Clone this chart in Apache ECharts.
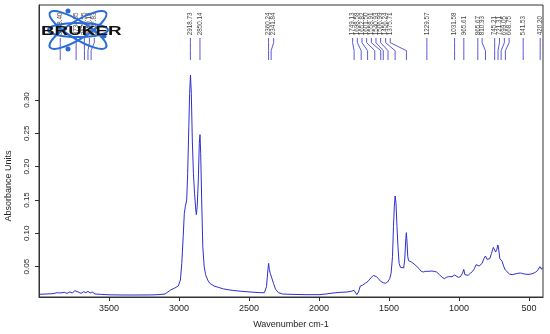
<!DOCTYPE html>
<html><head><meta charset="utf-8">
<script src="https://cdn.jsdelivr.net/npm/echarts@6/dist/echarts.min.js"></script>
<style>html,body{margin:0;padding:0;background:#fff}#c{width:550px;height:334px}</style>
</head><body><div id="c"></div>
<script>
// ---- data ----
const wavenumbers = [4000,3950,3900,3870,3850,3820,3800,3780,3760,3745,3735,3720,3700,3680,3665,3650,3635,3620,3600,3560,3500,3400,3300,3200,3150,3100,3080,3060,3030,3005,2990,2980,2970,2962,2955,2950,2945,2938,2930,2924,2918,2912,2905,2897,2889,2880,2876,2870,2862,2855,2850,2845,2838,2830,2820,2810,2795,2780,2750,2720,2680,2620,2550,2480,2420,2390,2375,2365,2360,2355,2348,2342,2335,2325,2310,2290,2260,2200,2100,2000,1950,1900,1850,1800,1770,1750,1740,1730,1725,1718,1705,1690,1670,1650,1630,1612,1600,1590,1575,1560,1540,1525,1510,1495,1485,1475,1468,1462,1456,1450,1443,1436,1428,1418,1405,1395,1388,1380,1376,1372,1366,1360,1350,1340,1330,1315,1300,1285,1270,1255,1240,1229,1215,1200,1180,1160,1140,1120,1105,1090,1075,1062,1050,1040,1031,1020,1005,990,975,966,958,948,935,920,905,890,878,866,856,848,835,822,811,800,790,780,768,755,746,738,730,722,716,708,700,692,680,669,655,640,620,600,580,562,545,530,515,500,485,470,455,440,430,422,416,410,405,400];
const absorbance = [0.0085,0.009,0.0095,0.011,0.0105,0.0115,0.010,0.012,0.0105,0.014,0.0125,0.012,0.010,0.0125,0.011,0.013,0.0105,0.012,0.009,0.0085,0.0078,0.0075,0.0075,0.0076,0.008,0.009,0.012,0.015,0.018,0.021,0.03,0.055,0.095,0.13,0.14,0.142,0.15,0.19,0.26,0.31,0.3375,0.31,0.24,0.19,0.16,0.135,0.128,0.14,0.18,0.235,0.248,0.22,0.15,0.08,0.05,0.038,0.03,0.025,0.021,0.019,0.0165,0.0145,0.013,0.0118,0.011,0.011,0.02,0.045,0.055,0.046,0.04,0.043,0.038,0.025,0.016,0.011,0.009,0.0085,0.008,0.008,0.009,0.0105,0.0115,0.012,0.013,0.0145,0.013,0.008,0.006,0.012,0.021,0.022,0.025,0.028,0.033,0.037,0.037,0.035,0.032,0.028,0.026,0.025,0.027,0.032,0.04,0.065,0.11,0.14,0.156,0.145,0.11,0.08,0.055,0.049,0.046,0.048,0.06,0.092,0.101,0.09,0.065,0.059,0.057,0.057,0.055,0.053,0.05,0.047,0.043,0.042,0.043,0.044,0.043,0.0435,0.043,0.042,0.038,0.034,0.032,0.034,0.035,0.036,0.035,0.036,0.0375,0.036,0.034,0.035,0.04,0.046,0.038,0.035,0.037,0.04,0.0425,0.047,0.053,0.055,0.051,0.049,0.055,0.062,0.066,0.061,0.058,0.062,0.07,0.079,0.08,0.072,0.076,0.0825,0.075,0.062,0.0625,0.058,0.05,0.045,0.042,0.039,0.038,0.039,0.04,0.0405,0.0395,0.039,0.0385,0.0385,0.039,0.04,0.0415,0.044,0.047,0.05,0.047,0.046,0.049,0.045];
const xTicks = [500,1000,1500,2000,2500,3000,3500];
const yTicks = [0.05,0.10,0.15,0.20,0.25,0.30];
const peakLabels = ['3848.40','3734.85','3675.55','3650.18','3627.83','2918.73','2850.14','2360.24','2341.84','1749.13','1698.58','1652.82','1601.50','1558.91','1540.93','1506.99','1456.24','1375.71','1229.57','1031.58','965.61','865.67','810.93','745.21','721.31','699.05','668.75','541.53','420.20'];
const peakWavenumbers = [3848.40,3734.85,3675.55,3650.18,3627.83,2918.73,2850.14,2360.24,2341.84,1749.13,1698.58,1652.82,1601.50,1558.91,1540.93,1506.99,1456.24,1375.71,1229.57,1031.58,965.61,865.67,810.93,745.21,721.31,699.05,668.75,541.53,420.20];
// wavenumber at which each label is printed (labels are spread where peaks crowd)
const peakLabelWavenumbers = [3848,3734,3676,3640,3605,2918.73,2850.14,2360.24,2324,1760,1726,1693,1660,1626,1593,1560,1524,1491,1229.57,1031.58,965.61,865.67,835,745.21,711,676,642,541.53,420.20];

const FONT = 'Liberation Sans, Arial, sans-serif';
const spectrum = wavenumbers.map((w,i)=>[w, absorbance[i]]);
const peaks = peakWavenumbers.map((p,i)=>[p, peakLabelWavenumbers[i]]);

const chart = echarts.init(document.getElementById('c'), null, {renderer:'canvas'});
chart.setOption({
  animation:false,
  backgroundColor:'#fff',
  textStyle:{fontFamily:FONT},
  grid:{left:39, right:7, top:5, bottom:37, show:true, borderColor:'#333', borderWidth:1, backgroundColor:'transparent'},
  xAxis:{
    type:'value', min:400, max:4000, inverse:true,
    axisLine:{show:true, onZero:false, lineStyle:{color:'#333', width:1}},
    axisTick:{show:true, customValues:xTicks, length:4, lineStyle:{color:'#333'}},
    axisLabel:{customValues:xTicks, fontSize:9, color:'#222', margin:7, fontFamily:FONT,
      formatter:v=>String(Math.round(v))},
    splitLine:{show:false},
    name:'Wavenumber cm-1', nameLocation:'middle', nameGap:23,
    nameTextStyle:{fontSize:9, color:'#222', fontFamily:FONT}
  },
  yAxis:{
    type:'value', min:0.0045, max:0.4425,
    axisLine:{show:true, onZero:false, lineStyle:{color:'#333', width:1}},
    axisTick:{show:true, customValues:yTicks, length:4, lineStyle:{color:'#333'}},
    axisLabel:{customValues:yTicks, rotate:90, fontSize:8, color:'#222', margin:8, fontFamily:FONT,
      formatter:v=>Number(v).toFixed(2)},
    splitLine:{show:false}
  },
  graphic:[
    {type:'text', x:9, y:186, rotation:Math.PI/2,
     style:{text:'Absorbance Units', fontSize:9, fill:'#222', fontFamily:FONT, align:'center', verticalAlign:'middle'}},
    {type:'ellipse', x:78, y:30, rotation:0.55, z:10, shape:{cx:0, cy:0, rx:33, ry:9},
     style:{fill:null, stroke:'#2a6bd8', lineWidth:2}},
    {type:'ellipse', x:78, y:30, rotation:-0.55, z:10, shape:{cx:0, cy:0, rx:33, ry:9},
     style:{fill:null, stroke:'#2a6bd8', lineWidth:2}},
    {type:'ellipse', x:78, y:30, rotation:0, z:10, shape:{cx:0, cy:0, rx:30, ry:7},
     style:{fill:null, stroke:'#2a6bd8', lineWidth:2}},
    {type:'circle', z:11, shape:{cx:68, cy:11, r:2.5}, style:{fill:'#2a6bd8'}},
    {type:'circle', z:11, shape:{cx:68, cy:49, r:2.5}, style:{fill:'#2a6bd8'}},
    {type:'circle', z:11, shape:{cx:104, cy:36, r:2.5}, style:{fill:'#2a6bd8'}},
    {type:'text', x:41, y:31, scaleX:1.45, z:12,
     style:{text:'BRUKER', fontSize:13, fontWeight:'bold', fill:'#111', fontFamily:FONT, align:'left', verticalAlign:'middle'}}
  ],
  series:[
    {type:'line', data:spectrum, showSymbol:false, symbol:'none', smooth:false,
     lineStyle:{color:'#2f2fcf', width:1}, z:3},
    {type:'custom', data:peaks, clip:false, z:4,
     encode:{x:[0,1]},
     renderItem:function(params, api){
       const p = api.value(0), l = api.value(1);
       const top = api.coord([l, 0.393]);
       const k1 = api.coord([l, 0.386]);
       const k2 = api.coord([p, 0.374]);
       const bot = api.coord([p, 0.360]);
       const t = api.coord([l, 0.397]);
       return {type:'group', children:[
         {type:'polyline', shape:{points:[top,k1,k2,bot]}, style:{stroke:'#5a5ad6', lineWidth:1, fill:null}},
         {type:'text', x:t[0], y:t[1], rotation:Math.PI/2,
          style:{text:peakLabels[params.dataIndex], x:0, y:0, align:'left', verticalAlign:'middle', fontSize:6.3, fill:'#444', fontFamily:FONT}}
       ]};
     }}
  ]
});
</script></body></html>
